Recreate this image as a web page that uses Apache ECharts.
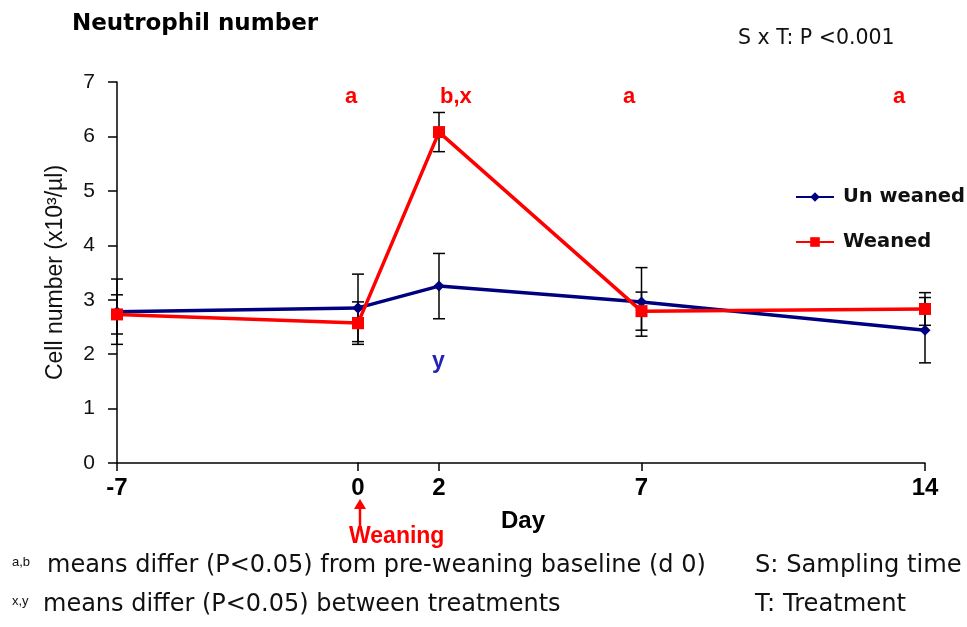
<!DOCTYPE html>
<html>
<head>
<meta charset="utf-8">
<script src="https://cdn.jsdelivr.net/npm/echarts@6/dist/echarts.min.js"></script>
<style>
html,body{margin:0;padding:0;background:#fff;}
#chart{width:967px;height:627px;}
</style>
</head>
<body>
<div id="chart"></div>
<script>
// ---------------- data ----------------
const days = [-7, 0, 2, 7, 14];
const weaningDay = 0;
const seriesNames = ['Un weaned', 'Weaned'];
const unweanedMean = [2.78, 2.85, 3.25, 2.96, 2.44];
const unweanedErr  = [0.60, 0.62, 0.60, 0.63, 0.60];
const weanedMean   = [2.73, 2.57, 6.08, 2.79, 2.83];
const weanedErr    = [0.36, 0.39, 0.36, 0.35, 0.30];
const dayTicks = [-7, 0, 2, 7, 14];
const yMin = 0, yMax = 7, yStep = 1;
const letterAbove = ['', 'a', 'b,x', 'a', 'a'];
const letterBelow = ['', '', 'y', '', ''];

// ---------------- helpers ----------------
const NAVY = '#00007f', RED = '#ff0000', INK = '#111111';
const ARIAL = 'Liberation Sans, Arial, sans-serif';
const DJV = 'DejaVu Sans, sans-serif';

function points(mean, keep) {
  return days.map((d, i) => [d, mean[i]]).filter(p => keep(p[0]));
}
function bars(mean, err, keep) {
  return days.map((d, i) => [d, mean[i] - err[i], mean[i] + err[i]]).filter(p => keep(p[0]));
}
const pre = d => d <= weaningDay;
const post = d => d >= weaningDay;
const preBar = d => d < weaningDay;

function renderErr(params, api) {
  const x = api.value(0);
  const lo = api.coord([x, api.value(1)]);
  const hi = api.coord([x, api.value(2)]);
  const w = 6;
  const st = { stroke: '#000', lineWidth: 1.5 };
  return {
    type: 'group',
    children: [
      { type: 'line', shape: { x1: lo[0], y1: lo[1], x2: hi[0], y2: hi[1] }, style: st },
      { type: 'line', shape: { x1: lo[0] - w, y1: lo[1], x2: lo[0] + w, y2: lo[1] }, style: st },
      { type: 'line', shape: { x1: hi[0] - w, y1: hi[1], x2: hi[0] + w, y2: hi[1] }, style: st }
    ]
  };
}

function lineSeries(name, mean, keep, xi, color, symbol, size, z) {
  return {
    name: name, type: 'line', xAxisIndex: xi, yAxisIndex: xi,
    data: points(mean, keep),
    symbol: symbol, symbolSize: size, z: z,
    lineStyle: { color: color, width: 3.5 },
    itemStyle: { color: color },
    emphasis: { disabled: true }
  };
}
function errSeries(keep, xi) {
  return {
    type: 'custom', xAxisIndex: xi, yAxisIndex: xi, z: 1,
    renderItem: renderErr,
    data: bars(unweanedMean, unweanedErr, keep).concat(bars(weanedMean, weanedErr, keep)),
    encode: { x: 0, y: [1, 2] },
    silent: true
  };
}

const GRID_TOP = 82, GRID_BOTTOM = 164;
const X_LEFT = 117, X_ZERO = 358, X_RIGHT = 42;

const xCommon = {
  type: 'value',
  axisLine: { show: true, onZero: false, lineStyle: { color: '#000', width: 1.5 } },
  axisTick: { show: true, length: 8, lineStyle: { color: '#000', width: 1.5 } },
  axisLabel: { fontFamily: ARIAL, fontWeight: 'bold', fontSize: 24, color: '#000', margin: 13 },
  splitLine: { show: false }
};
const yCommon = {
  type: 'value', min: yMin, max: yMax, interval: yStep,
  splitLine: { show: false }
};

const annot = [];
const annotX = [0, 345, 440, 623, 893];
letterAbove.forEach((t, i) => {
  if (t) annot.push({ type: 'text', left: annotX[i], top: 86,
    style: { text: t, fill: RED, font: 'bold 22px ' + ARIAL, textAlign: 'center' } });
});
letterBelow.forEach((t, i) => {
  if (t) annot.push({ type: 'text', left: annotX[i] - 8, top: 350,
    style: { text: t, fill: '#2323b5', font: 'bold 23px ' + ARIAL } });
});

const option = {
  animation: false,
  backgroundColor: '#ffffff',
  grid: [
    { left: X_LEFT, width: X_ZERO - X_LEFT, top: GRID_TOP, bottom: GRID_BOTTOM, containLabel: false },
    { left: X_ZERO, right: X_RIGHT, top: GRID_TOP, bottom: GRID_BOTTOM, containLabel: false }
  ],
  xAxis: [
    Object.assign({}, xCommon, {
      gridIndex: 0, min: days[0], max: weaningDay,
      axisTick: Object.assign({}, xCommon.axisTick, { customValues: dayTicks.filter(d => d < weaningDay) }),
      axisLabel: Object.assign({}, xCommon.axisLabel, { customValues: dayTicks.filter(d => d < weaningDay) })
    }),
    Object.assign({}, xCommon, {
      gridIndex: 1, min: weaningDay, max: days[days.length - 1],
      axisTick: Object.assign({}, xCommon.axisTick, { customValues: dayTicks.filter(d => d >= weaningDay) }),
      axisLabel: Object.assign({}, xCommon.axisLabel, { customValues: dayTicks.filter(d => d >= weaningDay) })
    })
  ],
  yAxis: [
    Object.assign({}, yCommon, {
      gridIndex: 0, position: 'left',
      name: 'Cell number (x10³/µl)', nameLocation: 'middle', nameGap: 50, nameRotate: 90,
      nameTextStyle: { fontFamily: ARIAL, fontSize: 23, color: INK },
      axisLine: { show: true, onZero: false, lineStyle: { color: '#000', width: 1.5 } },
      axisTick: { show: true, length: 9, lineStyle: { color: '#000', width: 1.5 } },
      axisLabel: { fontFamily: ARIAL, fontSize: 21, color: INK, margin: 22 }
    }),
    Object.assign({}, yCommon, {
      gridIndex: 1, show: false,
      axisLine: { show: false, onZero: false }, axisTick: { show: false }, axisLabel: { show: false }
    })
  ],
  legend: {
    orient: 'vertical', left: 795, top: 187, padding: 0,
    itemWidth: 38, itemHeight: 12, itemGap: 25,
    selectedMode: false,
    data: seriesNames,
    textStyle: { fontFamily: DJV, fontWeight: 'bold', fontSize: 19.5, color: INK, padding: [0, 0, 0, 4] }
  },
  series: [
    errSeries(preBar, 0),
    errSeries(post, 1),
    lineSeries(seriesNames[0], unweanedMean, pre, 0, NAVY, 'diamond', 11, 3),
    lineSeries(seriesNames[0], unweanedMean, post, 1, NAVY, 'diamond', 11, 3),
    lineSeries(seriesNames[1], weanedMean, pre, 0, RED, 'rect', 12, 4),
    lineSeries(seriesNames[1], weanedMean, post, 1, RED, 'rect', 12, 4)
  ],
  graphic: [
    { type: 'text', left: 72, top: 13, style: { text: 'Neutrophil number', fill: '#000', font: 'bold 23px ' + DJV } },
    { type: 'text', left: 738, top: 28, style: { text: 'S x T: P <0.001', fill: INK, font: '20.5px ' + DJV } },
    { type: 'text', left: 501, top: 509, style: { text: 'Day', fill: '#000', font: 'bold 24px ' + ARIAL } },
    { type: 'text', left: 349, top: 525, style: { text: 'Weaning', fill: RED, font: 'bold 23px ' + ARIAL } },
    { type: 'line', shape: { x1: 360, y1: 527, x2: 360, y2: 506 }, style: { stroke: RED, lineWidth: 2.5 } },
    { type: 'polygon', shape: { points: [[360, 499], [354, 509], [366, 509]] }, style: { fill: RED } },
    { type: 'text', left: 12, top: 556, style: { text: 'a,b', fill: INK, font: '13px ' + ARIAL } },
    { type: 'text', left: 47, top: 554, style: { text: 'means differ (P<0.05) from pre-weaning baseline (d 0)', fill: INK, font: '24px ' + DJV } },
    { type: 'text', left: 12, top: 595, style: { text: 'x,y', fill: INK, font: '13px ' + ARIAL } },
    { type: 'text', left: 43, top: 593, style: { text: 'means differ (P<0.05) between treatments', fill: INK, font: '24px ' + DJV } },
    { type: 'text', left: 755, top: 554, style: { text: 'S: Sampling time', fill: INK, font: '24.2px ' + DJV } },
    { type: 'text', left: 755, top: 593, style: { text: 'T: Treatment', fill: INK, font: '24.2px ' + DJV } }
  ].concat(annot)
};

const chart = echarts.init(document.getElementById('chart'), null, { renderer: 'canvas' });
chart.setOption(option);
</script>
</body>
</html>
